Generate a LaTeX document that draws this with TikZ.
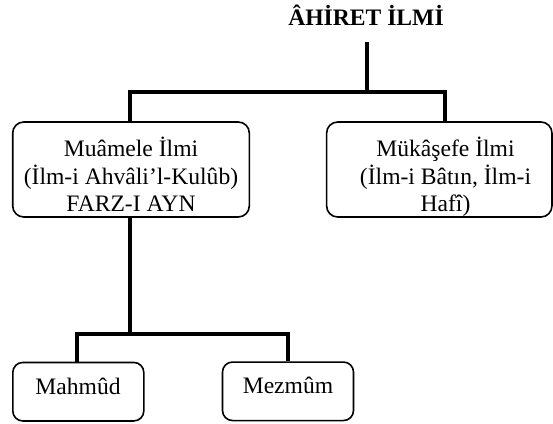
\documentclass[tikz,border=0pt]{standalone}
\usepackage{fontspec}
\setmainfont{Liberation Serif}
\begin{document}
\begin{tikzpicture}[x=1pt,y=-1pt,
  box/.style={draw, line width=1.6pt, rounded corners=11pt, inner sep=0pt},
  smallbox/.style={box, rounded corners=10pt, minimum width=131pt, minimum height=58.5pt},
  label text/.style={anchor=base, inner sep=0pt, font=\fontsize{23.6}{27}\selectfont},
  heading/.style={anchor=base, inner sep=0pt, font=\fontsize{23.6}{27}\selectfont\bfseries},
  conn/.style={line width=4pt, line cap=butt, line join=miter}]
\useasboundingbox (0,0) rectangle (553,423);

% title
\node[heading] (title) at (366,25.7) {ÂHİRET İLMİ};

% first level boxes and their texts
\node[box, minimum width=236.6pt, minimum height=95pt] (left) at (131,169.5) {};
\node[label text] (lefttext) at (131,156.7)
  {\begin{tabular}[t]{@{}c@{}}Muâmele İlmi\\(İlm-i Ahvâli’l-Kulûb)\\FARZ-I AYN\end{tabular}};
\node[box, minimum width=225.3pt, minimum height=95pt] (right) at (439.3,169.5) {};
\node[label text] (righttext) at (445.5,156.5)
  {\begin{tabular}[t]{@{}c@{}}Mükâşefe İlmi\\(İlm-i Bâtın, İlm-i\\Hafî)\end{tabular}};

% second level boxes and their texts
\node[smallbox] (mah) at (78.3,391.7) {};
\node[label text] (mahtext) at (78,394) {Mahmûd};
\node[smallbox] (mez) at (288,391.3) {};
\node[label text] (meztext) at (288,393.5) {Mezmûm};

% connectors
\coordinate (top) at (366.7,41.7);
\coordinate (split) at (366.7,92.3);
\draw[conn] (top) -- (split);
\draw[conn] (split) -| ([xshift=-1pt]left.north);
\draw[conn] (split) -| ([xshift=5.7pt]right.north);

\coordinate (split2) at ([xshift=-1pt]left.south |- 0,333.7);
\draw[conn] ([xshift=-1pt]left.south) -- (split2);
\draw[conn] (split2) -| ([xshift=-1pt]mah.north);
\draw[conn] (split2) -| (mez.north);
\end{tikzpicture}
\end{document}
